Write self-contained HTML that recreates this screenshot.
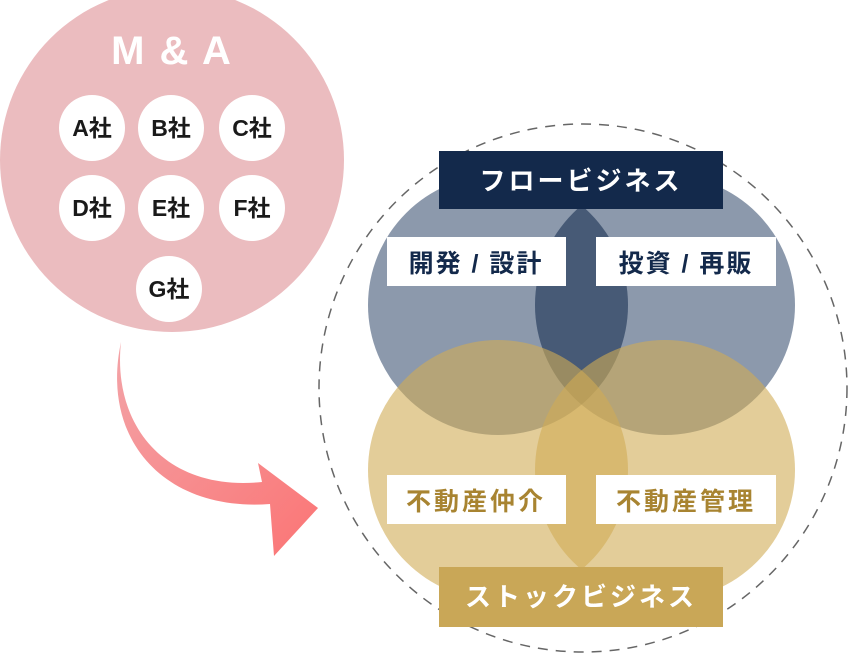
<!DOCTYPE html>
<html><head><meta charset="utf-8"><style>
body{margin:0;width:849px;height:657px;background:#fff;overflow:hidden}
svg text{font-family:"Liberation Sans","Noto Sans CJK JP",sans-serif;font-weight:bold}
</style></head><body>
<svg width="849" height="657" viewBox="0 0 849 657" xmlns="http://www.w3.org/2000/svg">
<defs><linearGradient id="g" x1="0" y1="0" x2="1" y2="1"><stop offset="0" stop-color="#f3a3a7"/><stop offset="1" stop-color="#fb7575"/></linearGradient>
<clipPath id="c1"><circle cx="498" cy="305" r="130"/></clipPath></defs>
<circle cx="172" cy="160" r="172" fill="#ebbcbf"/>
<text x="172" y="64" text-anchor="middle" font-size="40" fill="#fff" letter-spacing="2">M &amp; A</text>
<g fill="#fff">
<circle cx="92" cy="128" r="33"/><circle cx="171" cy="128" r="33"/><circle cx="252" cy="128" r="33"/>
<circle cx="92" cy="208" r="33"/><circle cx="171" cy="208" r="33"/><circle cx="252" cy="208" r="33"/>
<circle cx="169" cy="289" r="33"/></g>
<g font-size="23" fill="#1a1a1a" text-anchor="middle">
<text x="92" y="136">A社</text><text x="171" y="136">B社</text><text x="252" y="136">C社</text>
<text x="92" y="216">D社</text><text x="171" y="216">E社</text><text x="252" y="216">F社</text>
<text x="169" y="297">G社</text></g>
<path d="M121,342 C112,425 165,492 262,482 L258,463 L318,508 L274,556 L270,504 C165,512 100,440 121,342 Z" fill="url(#g)"/>
<circle cx="583" cy="388" r="264" fill="none" stroke="#666" stroke-width="1.5" stroke-dasharray="10,8"/>
<circle cx="498" cy="305" r="130" fill="#3f5575" opacity="0.6"/>
<circle cx="665" cy="305" r="130" fill="#3f5575" opacity="0.6"/>
<circle cx="665" cy="305" r="130" fill="#1e3050" opacity="0.35" clip-path="url(#c1)"/>
<circle cx="498" cy="470" r="130" fill="#d0ab55" opacity="0.6"/>
<circle cx="665" cy="470" r="130" fill="#d0ab55" opacity="0.6"/>
<rect x="439" y="151" width="284" height="58" fill="#13294b"/>
<text x="581" y="190" text-anchor="middle" font-size="26" fill="#fff" letter-spacing="3">フロービジネス</text>
<rect x="387" y="237" width="179" height="49" fill="#fff"/>
<rect x="596" y="237" width="180" height="49" fill="#fff"/>
<text x="476" y="272" text-anchor="middle" font-size="25" fill="#13294b" letter-spacing="2">開発 / 設計</text>
<text x="686" y="272" text-anchor="middle" font-size="25" fill="#13294b" letter-spacing="2">投資 / 再販</text>
<rect x="387" y="475" width="179" height="49" fill="#fff"/>
<rect x="596" y="475" width="180" height="49" fill="#fff"/>
<text x="476" y="510" text-anchor="middle" font-size="25" fill="#a88431" letter-spacing="3">不動産仲介</text>
<text x="686" y="510" text-anchor="middle" font-size="25" fill="#a88431" letter-spacing="3">不動産管理</text>
<rect x="439" y="567" width="284" height="60" fill="#c9a757"/>
<text x="581" y="606" text-anchor="middle" font-size="26" fill="#fff" letter-spacing="3">ストックビジネス</text>
</svg>
</body></html>
